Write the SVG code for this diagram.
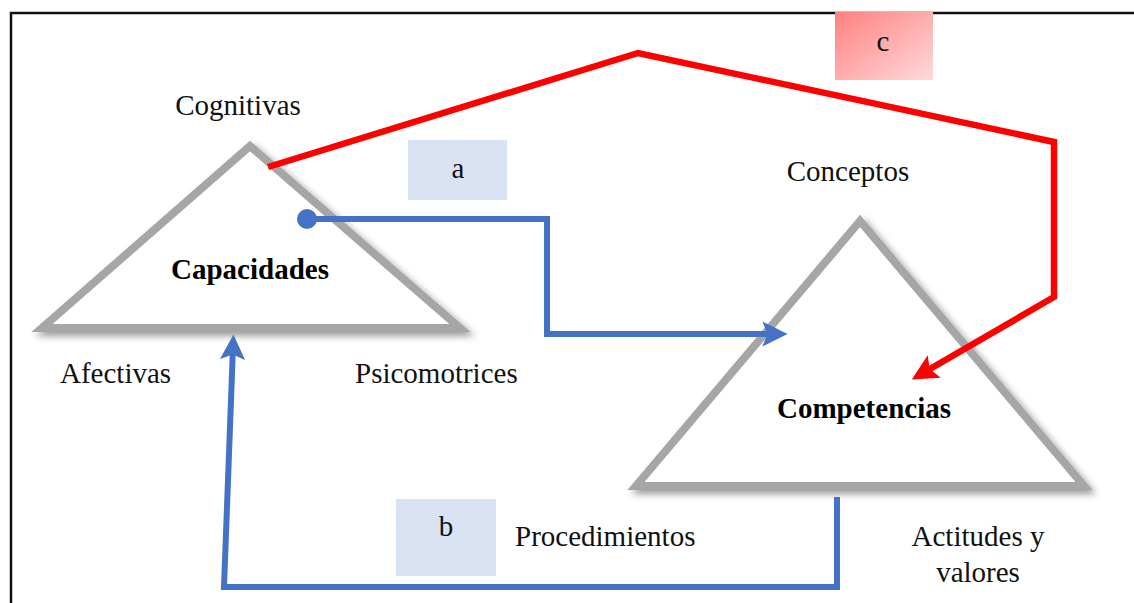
<svg xmlns="http://www.w3.org/2000/svg" width="1134" height="603" viewBox="0 0 1134 603">
  <style>
    .lbl { font-family: "Liberation Serif", "Times New Roman", serif; font-size: 29px; fill: #111; }
    .bold { font-weight: bold; fill: #000; }
    .tri { fill: #fff; stroke: #a6a6a6; stroke-width: 8; stroke-linejoin: miter; stroke-miterlimit: 10; }
    .blue { fill: none; stroke: #4472c4; stroke-width: 6; }
    .red { fill: none; stroke: #ff0000; stroke-width: 6.5; }
    .tag { fill: #dae3f3; }
  </style>
  <defs>
    <filter id="shadow" x="-10%" y="-10%" width="125%" height="125%">
      <feDropShadow dx="4" dy="4" stdDeviation="3.5" flood-color="#000" flood-opacity="0.4"/>
    </filter>
    <linearGradient id="gc" x1="0" y1="0" x2="1" y2="1">
      <stop offset="0" stop-color="#ff8080"/>
      <stop offset="1" stop-color="#ffdada"/>
    </linearGradient>
    <marker id="arrB" viewBox="0 0 10 10" refX="5" refY="5" markerWidth="4.2" markerHeight="4.2" orient="auto" markerUnits="strokeWidth">
      <polygon points="0,0 10,5 0,10 2,5" fill="#4472c4"/>
    </marker>
    <marker id="arrR" viewBox="0 0 10 10" refX="5" refY="5" markerWidth="4" markerHeight="4" orient="auto" markerUnits="strokeWidth">
      <polygon points="0,0 10,5 0,10 2,5" fill="#ff0000"/>
    </marker>
  </defs>

  <rect width="1134" height="603" fill="#fff"/>
  <!-- frame -->
  <path d="M1134,13 H11 V603" fill="none" stroke="#111" stroke-width="2.5"/>

  <g id="capacidades">
    <polygon class="tri" points="250,146 42,328 460,328" filter="url(#shadow)"/>
    <text class="lbl bold" x="250" y="279" text-anchor="middle">Capacidades</text>
  </g>
  <g id="competencias">
    <polygon class="tri" points="860,221 636,486 1084,486" filter="url(#shadow)"/>
    <text class="lbl bold" x="864" y="418" text-anchor="middle">Competencias</text>
  </g>

  <g id="labels">
    <text class="lbl" x="238" y="115" text-anchor="middle">Cognitivas</text>
    <text class="lbl" x="848" y="181" text-anchor="middle">Conceptos</text>
    <text class="lbl" x="60" y="383">Afectivas</text>
    <text class="lbl" x="355" y="383">Psicomotrices</text>
    <text class="lbl" x="515" y="546">Procedimientos</text>
    <text class="lbl" x="978" y="546" text-anchor="middle">Actitudes y</text>
    <text class="lbl" x="978" y="582" text-anchor="middle">valores</text>
  </g>

  <g id="connectors">
    <polyline class="red" points="268,167 638,53 1054,142 1054,297 923,373" marker-end="url(#arrR)"/>
    <polyline class="blue" points="307,219 547,219 547,334 775,334" marker-end="url(#arrB)"/>
    <circle cx="307" cy="219" r="10" fill="#4472c4"/>
    <polyline class="blue" points="837,497 837,587 224,587 233,347" marker-end="url(#arrB)"/>
  </g>

  <g id="tag-a">
    <rect class="tag" x="408" y="140" width="99" height="60"/>
    <text class="lbl" x="458" y="178" text-anchor="middle">a</text>
  </g>
  <g id="tag-b">
    <rect class="tag" x="396" y="499" width="100" height="77"/>
    <text class="lbl" x="446" y="536" text-anchor="middle">b</text>
  </g>
  <g id="tag-c">
    <rect x="835" y="12" width="98" height="68" fill="url(#gc)"/>
    <text class="lbl" x="883" y="51" text-anchor="middle">c</text>
  </g>
</svg>
